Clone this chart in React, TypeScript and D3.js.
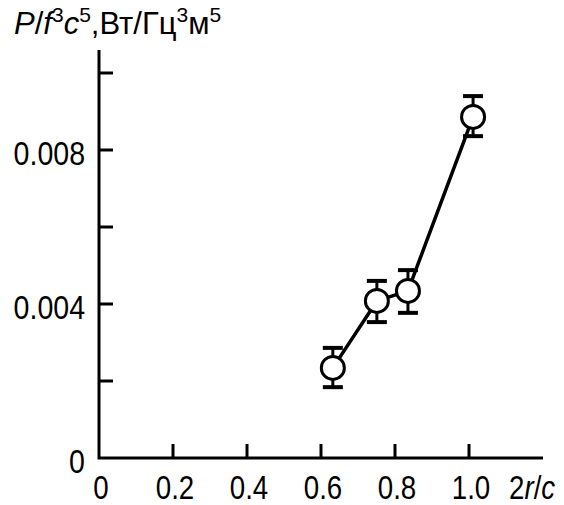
import React from 'react';
import * as d3 from 'd3';

// measured points: 2r/c against P/f^3c^5, with error bar ends
const xs = [0.632, 0.751, 0.835, 1.011];
const ys = [0.00234, 0.00408, 0.00434, 0.00886];
const yLo = [0.00184, 0.00353, 0.00377, 0.00836];
const yHi = [0.00286, 0.0046, 0.00488, 0.0094];

const xTicks = [0.2, 0.4, 0.6, 0.8, 1.0];
const xTickLabels = ['0.2', '0.4', '0.6', '0.8', '1.0'];
const yTicks = [0.002, 0.004, 0.006, 0.008, 0.01];
const yLabelTicks = [0, 0.004, 0.008];
const yLabelText = ['0', '0.004', '0.008'];

const width = 564;
const height = 505;
const font = 'Liberation Sans, Arial, sans-serif';

// tick labels in the original are a tall, narrow face
const Narrow = ({ x, y, anchor, size, children }: any) => (
    <text transform={`translate(${x},${y}) scale(0.84,1)`} textAnchor={anchor} fontSize={size}>{children}</text>
);

const App = () => {
    const x = d3.scaleLinear([0, 1.2], [99, 543]);
    const y = d3.scaleLinear([0, 0.01], [458, 73]);
    const line = d3.line<number>()
        .x((d, i) => x(xs[i]))
        .y(d => y(d));

    const axisTop = 50;
    const tickLen = 14;
    const xLabelY = 499;

    return (
        <svg width={width} height={height} viewBox={`0 0 ${width} ${height}`}
            style={{ position: 'absolute', left: 0, top: 0, background: '#fff' }}
            fontFamily={font}>
            {/* axes */}
            <path d={`M${x(0)},${axisTop}V${y(0)}H${x(1.2)}`} fill="none" stroke="#000" strokeWidth={3} />
            {yTicks.map(t => (
                <line key={t} x1={x(0)} x2={x(0) + tickLen} y1={y(t)} y2={y(t)} stroke="#000" strokeWidth={3} />
            ))}
            {xTicks.map(t => (
                <line key={t} x1={x(t)} x2={x(t)} y1={y(0)} y2={y(0) - tickLen} stroke="#000" strokeWidth={3} />
            ))}

            {/* tick labels */}
            {yLabelTicks.map((t, i) => (
                <Narrow key={t} x={85} y={y(t) + 15} anchor="end" size={34}>{yLabelText[i]}</Narrow>
            ))}
            <Narrow x={x(0) + 2} y={xLabelY} anchor="middle" size={33}>0</Narrow>
            {xTicks.map((t, i) => (
                <Narrow key={t} x={x(t) + 2} y={xLabelY} anchor="middle" size={33}>{xTickLabels[i]}</Narrow>
            ))}
            <Narrow x={509} y={xLabelY} anchor="start" size={33}>
                2<tspan fontStyle="italic">r</tspan>/<tspan fontStyle="italic">c</tspan>
            </Narrow>

            {/* y axis title */}
            <text x={14} y={34} fontSize={31}>
                <tspan fontStyle="italic">P</tspan>/<tspan fontStyle="italic">f</tspan>
                <tspan fontSize={21} dy={-12}>3</tspan>
                <tspan fontStyle="italic" dy={12}>c</tspan>
                <tspan fontSize={21} dy={-12}>5</tspan>
                <tspan dy={12}>,Вт/Гц</tspan>
                <tspan fontSize={21} dy={-12}>3</tspan>
                <tspan dy={12}>м</tspan>
                <tspan fontSize={21} dy={-12}>5</tspan>
            </text>

            {/* connecting line */}
            <path d={line(ys) ?? ''} fill="none" stroke="#000" strokeWidth={3.5} />

            {/* error bars and markers */}
            {ys.map((v, i) => (
                <g key={i}>
                    <line x1={x(xs[i])} x2={x(xs[i])} y1={y(yLo[i])} y2={y(yHi[i])} stroke="#000" strokeWidth={3} />
                    <line x1={x(xs[i]) - 10} x2={x(xs[i]) + 10} y1={y(yLo[i])} y2={y(yLo[i])} stroke="#000" strokeWidth={4} />
                    <line x1={x(xs[i]) - 10} x2={x(xs[i]) + 10} y1={y(yHi[i])} y2={y(yHi[i])} stroke="#000" strokeWidth={4} />
                    <circle cx={x(xs[i])} cy={y(v)} r={11.5} fill="#fff" stroke="#000" strokeWidth={3} />
                </g>
            ))}
        </svg>
    );
};

export default App;
